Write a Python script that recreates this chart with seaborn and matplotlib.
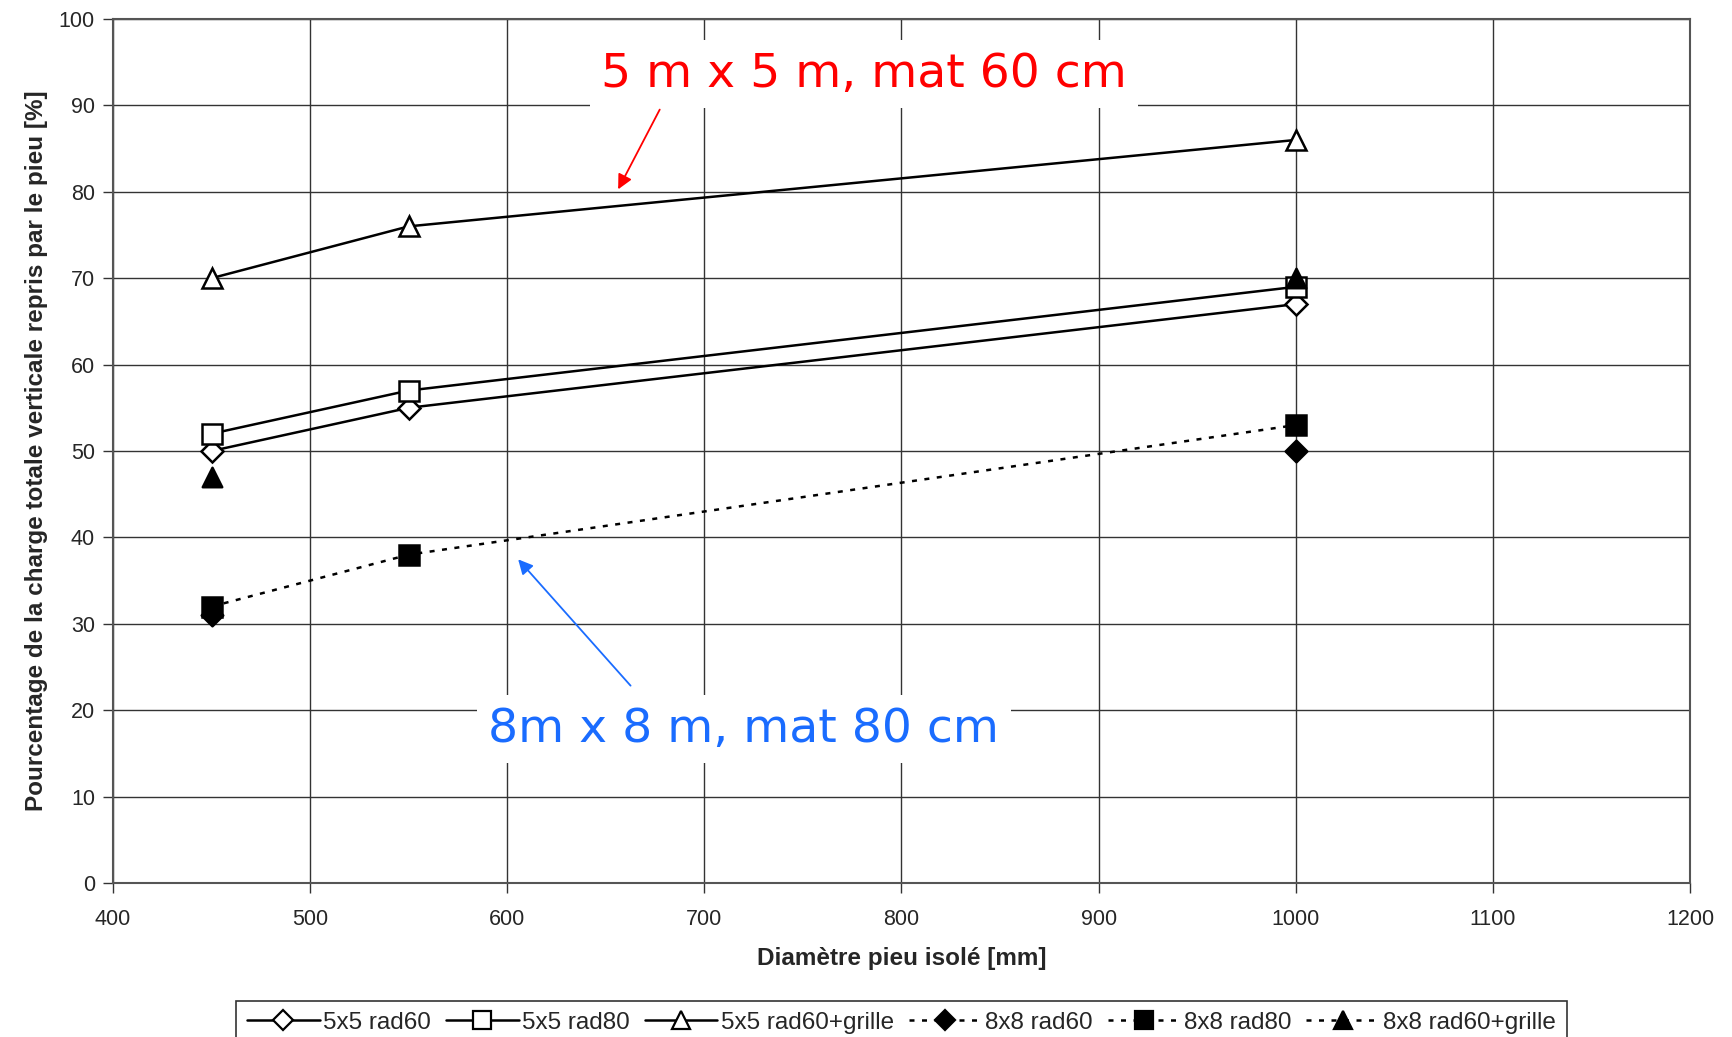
import numpy as np
import pandas as pd
import matplotlib
matplotlib.use("Agg")
import matplotlib.pyplot as plt
import seaborn as sns
from matplotlib.lines import Line2D

diam = [450, 550, 1000]
s5_rad60 = [50, 55, 67]
s5_rad80 = [52, 57, 69]
s5_grille = [70, 76, 86]
s8_rad60 = [31, np.nan, 50]
s8_rad80 = [32, 38, 53]
s8_grille = [47, np.nan, 70]
labels = ["5x5 rad60", "5x5 rad80", "5x5 rad60+grille", "8x8 rad60", "8x8 rad80", "8x8 rad60+grille"]

sns.set_theme(style="white")
plt.rcParams['font.family'] = ['Liberation Sans', 'DejaVu Sans']

fig = plt.figure(figsize=(17.33, 10.37), dpi=100)
ax = fig.add_axes([113/1733, 1 - 883/1037, (1690-113)/1733, (883-19)/1037])

series = [s5_rad60, s5_rad80, s5_grille, s8_rad60, s8_rad80, s8_grille]
markers = ["D", "s", "^", "D", "s", "^"]
msizes = [11, 14, 14, 11, 14, 14]
filled = [False, False, False, True, True, True]
dotted = (0, (2, 3))

for vals, lab, mk, ms, fl in zip(series, labels, markers, msizes, filled):
    df = pd.DataFrame({"x": diam, "y": vals})
    fc = "black" if fl else "white"
    ls = dotted if fl else "-"
    if np.isnan(vals).any():
        sns.scatterplot(data=df.dropna(), x="x", y="y", marker=mk, s=ms**2,
                        facecolor=fc, edgecolor="black", linewidth=1.8, ax=ax, zorder=5)
    else:
        sns.lineplot(data=df, x="x", y="y", color="black", linewidth=1.8,
                     linestyle=ls, marker=mk, markersize=ms, markerfacecolor=fc,
                     markeredgecolor="black", markeredgewidth=1.8, ax=ax, zorder=4)

ax.set_xlim(400, 1200)
ax.set_ylim(0, 100)
ax.set_xticks(np.arange(400, 1201, 100))
ax.set_yticks(np.arange(0, 101, 10))
ax.grid(True, color="#333333", linewidth=1.0)
for sp in ax.spines.values():
    sp.set_color("#555555")
    sp.set_linewidth(1.5)
ax.tick_params(axis="both", direction="out", length=7, width=1, color="#333333",
               labelsize=15.5, bottom=True, left=True)
ax.tick_params(axis="x", pad=12)
ax.tick_params(axis="y", pad=6)
ax.set_xlabel("Diamètre pieu isolé [mm]", fontsize=17.5, fontweight="bold", labelpad=12)
ax.set_ylabel("Pourcentage de la charge totale verticale repris par le pieu [%]",
              fontsize=17.5, fontweight="bold", labelpad=8)

ax.text(781, 93.6, "5 m x 5 m, mat 60 cm", color="red", fontsize=34,
        ha="center", va="center", family="DejaVu Sans", zorder=6,
        bbox=dict(facecolor="white", edgecolor="none", pad=8))
ax.annotate("", xy=(655.6, 80.0), xytext=(678, 89.8),
            arrowprops=dict(arrowstyle="-|>", color="red", lw=1.3, mutation_scale=22), zorder=6)
ax.text(720, 17.8, "8m x 8 m, mat 80 cm", color="#1a6cff", fontsize=34,
        ha="center", va="center", family="DejaVu Sans", zorder=6,
        bbox=dict(facecolor="white", edgecolor="none", pad=8))
ax.annotate("", xy=(604.6, 37.7), xytext=(663.5, 22.6),
            arrowprops=dict(arrowstyle="-|>", color="#1a6cff", lw=1.3, mutation_scale=22), zorder=6)

handles = []
for lab, mk, ms, fl in zip(labels, markers, msizes, filled):
    handles.append(Line2D([], [], color="black", linewidth=1.8,
                          linestyle=dotted if fl else "-", marker=mk, markersize=ms * 0.95,
                          markerfacecolor="black" if fl else "white",
                          markeredgecolor="black", markeredgewidth=1.6, label=lab))
leg = fig.legend(handles=handles, loc="upper center", bbox_to_anchor=(0.52, 1 - 1001/1037),
                 borderaxespad=0, ncol=6, frameon=True, fancybox=False, edgecolor="black",
                 fontsize=17.5, handlelength=3.0, handletextpad=0.15, columnspacing=0.6,
                 borderpad=0.45)
leg.get_frame().set_linewidth(1.2)

fig.savefig("out.png", dpi=100, facecolor="white")
